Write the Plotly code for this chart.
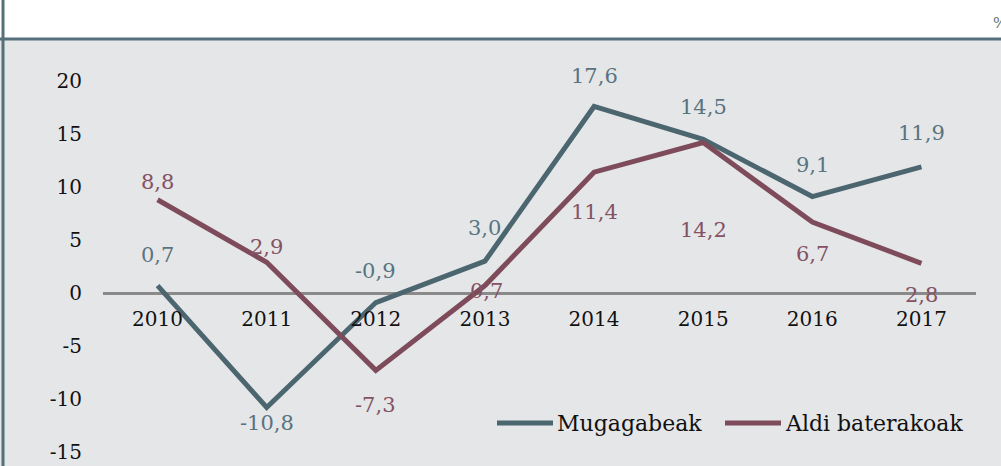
import plotly.graph_objects as go

years = [2010, 2011, 2012, 2013, 2014, 2015, 2016, 2017]
year_labels = ["2010", "2011", "2012", "2013", "2014", "2015", "2016", "2017"]
mugagabeak = [0.7, -10.8, -0.9, 3.0, 17.6, 14.5, 9.1, 11.9]
aldi = [8.8, 2.9, -7.3, 0.7, 11.4, 14.2, 6.7, 2.8]
y_ticks = [20, 15, 10, 5, 0, -5, -10, -15]

# label offsets (pixels)
mug_shift = [31, -16, 32, 33, 30, 32, 32, 34]
mug_xshift = [0, 0, 0, 0, 0, 0, 0, 0]
aldi_shift = [18, 15, -35, -5, -40, -87, -32, -32]
aldi_xshift = [0, 0, 0, 2, 0, 0, 0, 0]

C_MUG = "#4c6670"
C_ALDI = "#7e4b5b"
T_MUG = "#587480"
T_ALDI = "#845263"
BG = "#e5e6e8"
FONT = "DejaVu Serif"

W, H = 1001, 466
ML, MR, MT, MB = 103, 25, 40, 0
PW = W - ML - MR
PH = H - MT - MB


def px(x):
    return (x - ML) / PW


def py(y):
    return (H - y) / PH


def fmt(v):
    return f"{v:.1f}".replace(".", ",")


fig = go.Figure()
fig.add_trace(go.Scatter(x=years, y=mugagabeak, mode="lines", name="Mugagabeak",
                         line=dict(color=C_MUG, width=5), showlegend=False))
fig.add_trace(go.Scatter(x=years, y=aldi, mode="lines", name="Aldi baterakoak",
                         line=dict(color=C_ALDI, width=5), showlegend=False))
fig.add_trace(go.Scatter(x=years, y=[-2.65] * len(years), mode="text", text=year_labels,
                         textfont=dict(family=FONT, size=20, color="#111111"),
                         showlegend=False, hoverinfo="skip"))

ann = []
for x, v, s, xs in zip(years, mugagabeak, mug_shift, mug_xshift):
    ann.append(dict(x=x, y=v, text=fmt(v), showarrow=False, yshift=s, xshift=xs,
                    font=dict(family=FONT, size=21, color=T_MUG)))
for x, v, s, xs in zip(years, aldi, aldi_shift, aldi_xshift):
    ann.append(dict(x=x, y=v, text=fmt(v), showarrow=False, yshift=s, xshift=xs,
                    font=dict(family=FONT, size=21, color=T_ALDI)))

# % sign at top right
ann.append(dict(xref="paper", yref="paper", x=px(991), y=py(23), text="%", showarrow=False,
                xanchor="left", yanchor="middle",
                font=dict(family=FONT, size=15, color="#5a6f78")))

# manual legend
leg = [("Mugagabeak", C_MUG, 497, 553), ("Aldi baterakoak", C_ALDI, 725, 781)]
shapes = [
    dict(type="rect", xref="paper", yref="paper", x0=px(0), x1=px(W), y0=py(38), y1=py(0),
         fillcolor="white", line=dict(width=0), layer="below"),
    dict(type="line", xref="paper", yref="paper", x0=px(0), x1=px(W), y0=py(39), y1=py(39),
         line=dict(color="#56707b", width=3)),
    dict(type="line", xref="paper", yref="paper", x0=px(3), x1=px(3), y0=py(0), y1=py(H),
         line=dict(color="#56707b", width=3)),
]
for name, col, x0, x1 in leg:
    shapes.append(dict(type="line", xref="paper", yref="paper", x0=px(x0), x1=px(x1),
                       y0=py(423), y1=py(423), line=dict(color=col, width=5)))
    ann.append(dict(xref="paper", yref="paper", x=px(x1 + 2), y=py(423), text=name,
                    showarrow=False, xanchor="left", yanchor="middle",
                    font=dict(family=FONT, size=22, color="#111111")))

fig.update_layout(
    width=W, height=H,
    margin=dict(l=ML, r=MR, t=MT, b=MB, pad=0),
    paper_bgcolor=BG, plot_bgcolor=BG,
    showlegend=False,
    xaxis=dict(range=[2009.5, 2017.5], showgrid=False, showticklabels=False,
               zeroline=False, showline=False, ticks=""),
    yaxis=dict(range=[-16.32, 23.87], tickvals=y_ticks, ticktext=[str(t) for t in y_ticks],
               showgrid=False, zeroline=True, zerolinecolor="#8a8a8a", zerolinewidth=3,
               showline=False, ticks="", ticklabelstandoff=20,
               tickfont=dict(family=FONT, size=20, color="#111111")),
    annotations=ann,
    shapes=shapes,
)

fig.write_html("out.html", config={"displayModeBar": False},
               post_script="document.body.style.margin='0';document.body.style.overflow='hidden';")
